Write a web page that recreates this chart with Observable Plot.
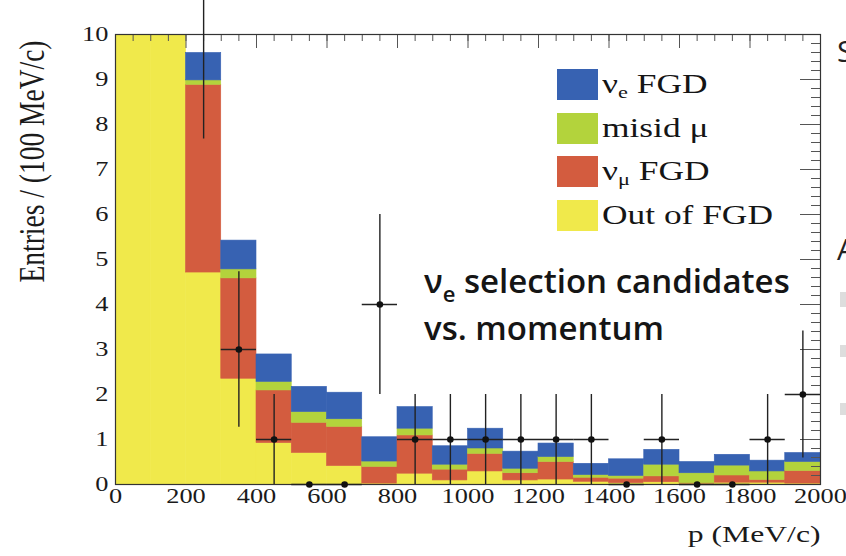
<!DOCTYPE html>
<html><head><meta charset="utf-8">
<script src="https://cdn.jsdelivr.net/npm/d3@7"></script>
<script src="https://cdn.jsdelivr.net/npm/@observablehq/plot@0.6"></script>
<style>
html,body{margin:0;padding:0;background:#fff;}
#wrap{position:relative;width:846px;height:556px;overflow:hidden;background:#fff;}
#wrap svg{position:absolute;left:0;top:0;}
#legend{position:absolute;left:557px;top:69px;font-family:"Liberation Serif",serif;font-size:27px;color:#151515;}
#legend .row{height:31px;margin-bottom:12.5px;display:flex;align-items:center;}
#legend .sw{width:41px;height:31px;flex:none;}
#legend .lab{display:inline-block;transform:scaleX(1.31);transform-origin:0 50%;margin-left:4px;white-space:nowrap;line-height:1;}
#legend sub{font-size:17px;vertical-align:-5px;line-height:0;}
#note{position:absolute;left:424px;top:257px;font-family:"Open Sans",sans-serif;font-weight:600;font-size:33px;line-height:47px;color:#151515;white-space:nowrap;}
#note sub{font-size:22px;vertical-align:-9px;line-height:0;}
.edge{position:absolute;left:837px;font-family:"Open Sans",sans-serif;font-size:30px;color:#222;}
.edgebox{position:absolute;left:840px;width:8px;background:#ddd;}
</style></head><body>
<div id="wrap"></div>
<script>
// bin lower edges (MeV/c), width 100
const binLow = [0,100,200,300,400,500,600,700,800,900,1000,1100,1200,1300,1400,1500,1600,1700,1800,1900];
const binWidth = 100;
// stacked MC components (entries / 100 MeV/c), bottom to top
const outFGD  = [22, 15, 4.71, 2.35, 0.92, 0.70, 0.41, 0.02, 0.24, 0.09, 0.29, 0.09, 0.11, 0.06, 0.03, 0.05, 0.02, 0.04, 0.04, 0.02];
const numuFGD = [1.0, 2.5, 4.17, 2.23, 1.17, 0.67, 0.87, 0.37, 0.85, 0.24, 0.39, 0.16, 0.39, 0.09, 0.10, 0.13, 0.01, 0.16, 0.06, 0.28];
const misidMu = [0.1, 0.2, 0.10, 0.20, 0.19, 0.24, 0.17, 0.12, 0.15, 0.11, 0.12, 0.10, 0.11, 0.06, 0.06, 0.26, 0.22, 0.22, 0.19, 0.20];
const nueFGD  = [0.3, 0.6, 0.61, 0.64, 0.61, 0.56, 0.59, 0.54, 0.48, 0.41, 0.44, 0.38, 0.30, 0.25, 0.37, 0.33, 0.25, 0.24, 0.24, 0.20];
// data candidates and their error bars
const dataCounts = [26, 17, 11, 3, 1, 0, 0, 4, 1, 1, 1, 1, 1, 1, 0, 1, 0, 0, 1, 2];
const dataErr    = [5.1, 4.12, 3.32, 1.73, 1, 0, 0, 2, 1, 1, 1, 1, 1, 1, 0, 1, 0, 0, 1, 1.41];
// axes
const xTicks = [0,200,400,600,800,1000,1200,1400,1600,1800,2000];
const yTicks = [0,1,2,3,4,5,6,7,8,9,10];
const xMinorTicks = d3.range(0, 2001, 50);
const yMinorTicks = d3.range(0, 51).map(i => i / 5);
const components = ["Out of FGD", "νμ FGD", "misid μ", "νe FGD"];
const compColors = ["#f0e94b", "#d35c3f", "#b3d33c", "#3762b2"];

const compArrays = [outFGD, numuFGD, misidMu, nueFGD];
const bars = [];
binLow.forEach((b, i) => compArrays.forEach((arr, j) => bars.push({x1: b, x2: b + binWidth, v: arr[i], k: components[j]})));
const pts = binLow.map((b, i) => ({x1: b, x2: b + binWidth, xc: b + binWidth / 2, n: dataCounts[i], e: dataErr[i]}));

const W = 846, H = 556, mT = 34, mR = 26, mB = 72, mL = 115;
const frameW = W - mL - mR, frameH = H - mT - mB;

const chart = Plot.plot({
  width: W, height: H,
  marginTop: mT, marginRight: mR, marginBottom: mB, marginLeft: mL,
  x: {domain: [0, 2000]},
  y: {domain: [0, 10]},
  color: {domain: components, range: compColors},
  style: {fontFamily: '"Liberation Serif", serif', fontSize: "20px", color: "#1a1a1a", background: "transparent", overflow: "visible"},
  marks: [
    Plot.rectY(bars, {x1: "x1", x2: "x2", y: "v", fill: "k", stroke: "k", strokeWidth: 0.6, clip: true}),
    // inward ROOT-style ticks on the top and right edges
    Plot.tickX(xMinorTicks, {x: d => d, insetBottom: frameH - 7, stroke: "#555", strokeWidth: 1}),
    Plot.tickX(xTicks, {x: d => d, insetBottom: frameH - 14, stroke: "#555", strokeWidth: 1}),
    Plot.tickY(yMinorTicks, {y: d => d, insetLeft: frameW - 9, stroke: "#555", strokeWidth: 1}),
    Plot.tickY(yTicks, {y: d => d, insetLeft: frameW - 20, stroke: "#555", strokeWidth: 1}),
    Plot.axisX(xTicks, {anchor: "bottom", tickSize: 0, tickPadding: 4, label: null, tickFormat: d => String(d)}),
    Plot.axisY(yTicks, {anchor: "left", tickSize: 0, tickPadding: 7, label: null, tickFormat: d => String(d)}),
    Plot.frame({stroke: "#333", strokeWidth: 1.2}),
    Plot.ruleX(pts, {x: "xc", y1: d => d.n - d.e, y2: d => d.n + d.e, stroke: "#222", strokeWidth: 1.4}),
    Plot.ruleY(pts, {x1: "x1", x2: "x2", y: "n", stroke: "#222", strokeWidth: 1.4}),
    Plot.dot(pts, {x: "xc", y: "n", r: 3.3, fill: "#111", stroke: null}),
    Plot.text(["p (MeV/c)"], {frameAnchor: "bottom-right", text: d => d, textAnchor: "end", lineAnchor: "bottom", dy: 57, fontSize: 24}),
    Plot.text(["Entries / (100 MeV/c)"], {frameAnchor: "top-left", text: d => d, rotate: -90, textAnchor: "end", dx: -97, dy: 6, fontSize: 27.5})
  ]
});

// ROOT picture is horizontally stretched: widen serif glyphs around their anchors
function stretch(t, s) {
  const tr = t.getAttribute("transform") || "";
  const m = tr.match(/^translate\(([^,\s]+)[,\s]+([^)]+)\)(.*)$/);
  if (m) t.setAttribute("transform", `translate(${m[1]},${m[2]}) scale(${s},1)${m[3]}`);
  else {
    const x = +t.getAttribute("x") || 0, y = +t.getAttribute("y") || 0;
    t.setAttribute("transform", `translate(${x},${y}) scale(${s},1) translate(${-x},${-y}) ${tr}`);
  }
}
chart.querySelectorAll("text").forEach(t => stretch(t, 1.32));

const wrap = document.getElementById("wrap");
wrap.appendChild(chart);

const legend = document.createElement("div");
legend.id = "legend";
const legendLabels = ["ν<sub>e</sub> FGD", "misid μ", "ν<sub>μ</sub> FGD", "Out of FGD"];
const legendColors = [compColors[3], compColors[2], compColors[1], compColors[0]];
legend.innerHTML = legendLabels.map((l, i) =>
  `<div class="row"><div class="sw" style="background:${legendColors[i]}"></div><span class="lab">${l}</span></div>`).join("");
wrap.appendChild(legend);

const note = document.createElement("div");
note.id = "note";
note.innerHTML = "ν<sub>e</sub> selection candidates<br>vs. momentum";
wrap.appendChild(note);

// cropped neighbouring slide content at the right edge
wrap.insertAdjacentHTML("beforeend",
  `<div class="edge" style="top:30px">S</div><div class="edge" style="top:228px">A</div>
   <div class="edgebox" style="top:292px;height:15px"></div>
   <div class="edgebox" style="top:345px;height:12px"></div>
   <div class="edgebox" style="top:403px;height:12px"></div>`);
</script>
</body></html>
